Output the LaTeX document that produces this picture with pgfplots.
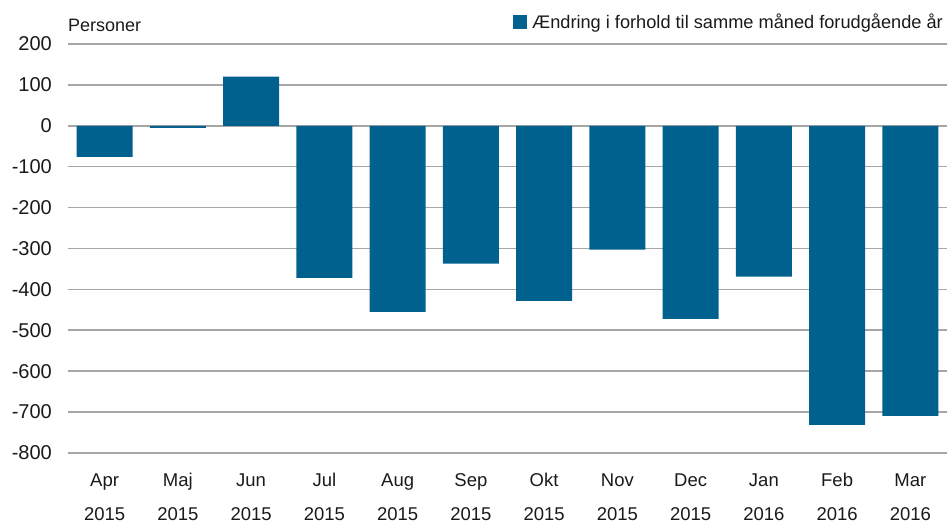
\documentclass[border=0pt]{standalone}
\usepackage{fontspec}
\setmainfont{Liberation Sans}
\usepackage{pgfplots}
\pgfplotsset{compat=1.18}
\definecolor{barblue}{HTML}{00618F}
\definecolor{gridgray}{HTML}{A6A6A6}
\definecolor{txt}{HTML}{1A1A1A}
\newcommand{\ml}[2]{\vphantom{Ag}#1\\\vphantom{Ag}#2}
\begin{document}
\begin{tikzpicture}
\useasboundingbox (0,0) rectangle (947bp,526bp);
\begin{axis}[
  at={(68bp,73bp)}, anchor=south west,
  scale only axis, width=879bp, height=409bp,
  xmin=-0.5, xmax=11.5, ymin=-800, ymax=200,
  ybar, bar width=56bp,
  ytick={-800,-700,-600,-500,-400,-300,-200,-100,0,100,200},
  yticklabels={-800,-700,-600,-500,-400,-300,-200,-100,0,100,200},
  xtick={0,1,2,3,4,5,6,7,8,9,10,11},
  xticklabels={\ml{Apr}{2015},\ml{Maj}{2015},\ml{Jun}{2015},\ml{Jul}{2015},\ml{Aug}{2015},\ml{Sep}{2015},\ml{Okt}{2015},\ml{Nov}{2015},\ml{Dec}{2015},\ml{Jan}{2016},\ml{Feb}{2016},\ml{Mar}{2016}},
  xticklabel style={align=center, font=\fontsize{18.5bp}{34bp}\selectfont, text=txt, inner sep=0pt, yshift=-16bp},
  yticklabel style={font=\fontsize{20bp}{24bp}\selectfont, text=txt, inner sep=0pt, xshift=-16bp},
  ymajorgrids, major grid style={gridgray, line width=1.6bp},
  axis line style={draw=none}, tick style={draw=none},
  legend style={at={(rel axis cs:1,1)}, anchor=east, xshift=-4bp, yshift=22bp,
    draw=none, fill=none, inner sep=0pt, column sep=5bp,
    font=\fontsize{18.2bp}{20bp}\selectfont, text=txt,
    nodes={inner sep=0pt}},
  legend image code/.code={\fill[barblue] (0bp,-7bp) rectangle (14bp,7bp);},
]
\addplot[fill=barblue, draw=none] coordinates {
(0,-76) (1,-5) (2,120) (3,-372) (4,-455) (5,-337) (6,-428) (7,-303) (8,-472) (9,-369) (10,-731) (11,-709)};
\addlegendentry{Ændring i forhold til samme måned forudgående år}
\end{axis}
\node[anchor=west, inner sep=0pt, text=txt, font=\fontsize{18bp}{20bp}\selectfont] at (68bp,501bp) {Personer};
\end{tikzpicture}
\end{document}
